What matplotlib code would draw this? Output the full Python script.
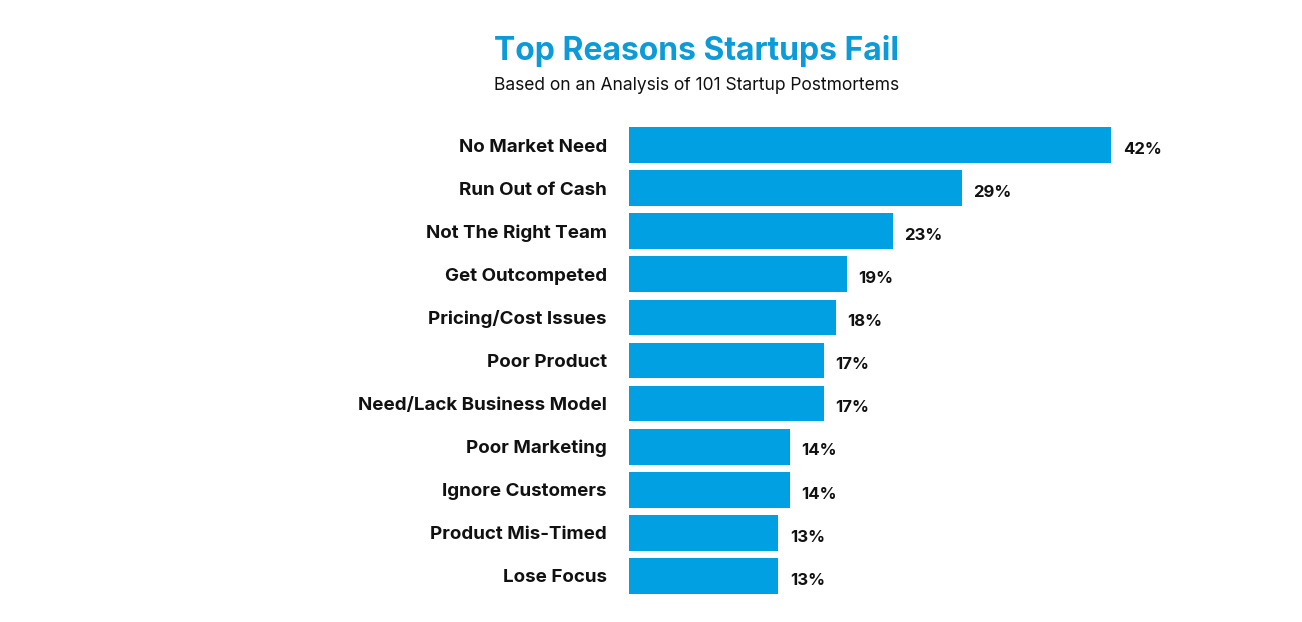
import matplotlib
matplotlib.use("Agg")
import matplotlib.pyplot as plt

categories = ["No Market Need", "Run Out of Cash", "Not The Right Team", "Get Outcompeted",
              "Pricing/Cost Issues", "Poor Product", "Need/Lack Business Model",
              "Poor Marketing", "Ignore Customers", "Product Mis-Timed", "Lose Focus"]
values = [42, 29, 23, 19, 18, 17, 17, 14, 14, 13, 13]
value_labels = ["42%", "29%", "23%", "19%", "18%", "17%", "17%", "14%", "14%", "13%", "13%"]

plt.rcParams["font.family"] = "Inter"
fig = plt.figure(figsize=(13.02, 6.22), dpi=100)
ax = fig.add_axes([629/1302, 0.0394, 574/1302, 0.762])
y = list(range(len(categories)))
ax.barh(y, values, height=0.83, color="#00A0E3")
ax.set_xlim(0, 50)
ax.set_ylim(len(categories) - 0.5, -0.5)
for yi, v, lab in zip(y, values, value_labels):
    ax.text(v + 1.0, yi + 0.1, lab, va="center", ha="left", fontsize=12, fontweight="bold", color="#111111")
ax.set_yticks(y)
ax.set_yticklabels(categories, fontsize=13.5, fontweight="bold", color="#111111")
ax.tick_params(axis="y", length=0, pad=16)
ax.set_xticks([])
for s in ax.spines.values():
    s.set_visible(False)
fig.text(0.535, 0.918, "Top Reasons Startups Fail", ha="center", va="center",
         fontsize=23, fontweight="bold", color="#0A9BD8")
fig.text(0.535, 0.862, "Based on an Analysis of 101 Startup Postmortems", ha="center", va="center",
         fontsize=12.5, color="#111111")
fig.savefig("out.png", dpi=100, facecolor="white")
